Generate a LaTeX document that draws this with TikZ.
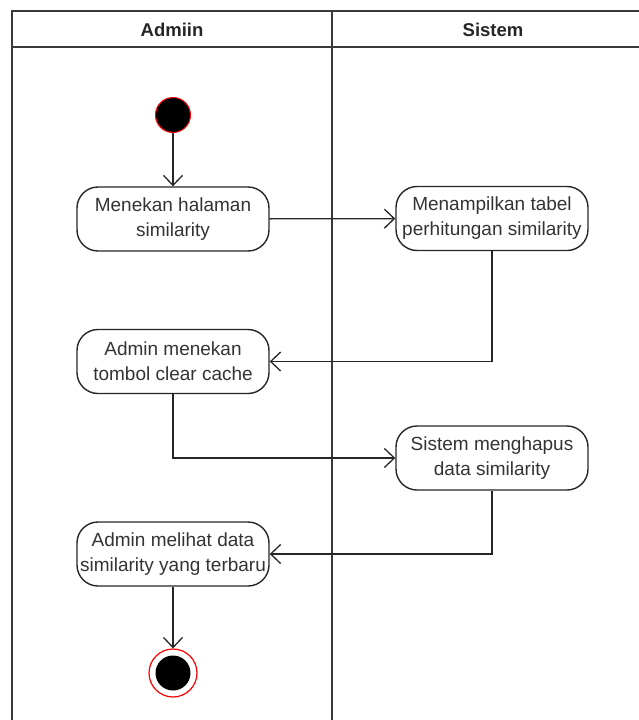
\documentclass[tikz,border=0pt]{standalone}
\usepackage{fontspec}
\setmainfont{Liberation Sans}
\usetikzlibrary{arrows.meta}
\definecolor{frame}{HTML}{3A3A3A}
\definecolor{ink}{HTML}{333333}
\definecolor{startred}{HTML}{FF0000}
\begin{document}
\begin{tikzpicture}[x=1pt,y=-1pt,
  lane/.style={draw=frame,line width=2pt},
  act/.style={draw=black!85,line width=1.4pt,rounded corners=21pt,
    minimum width=192pt,minimum height=64pt,inner sep=0pt,align=center,
    text=ink,font=\fontsize{19}{25}\selectfont},
  flow/.style={draw=black!85,line width=1.3pt,
    -{Straight Barb[length=10pt,width=19pt,line width=1.3pt]}},
  head/.style={font=\bfseries\fontsize{18.5}{20}\selectfont,text=black!85}]
\useasboundingbox (0,0) rectangle (639,720);
% swimlane frame
\draw[lane] (639,11) -- (12,11) -- (12,721);
\draw[lane] (12,47) -- (639,47);
\draw[lane] (332,11) -- (332,721);
\node[head] (hA) at (172,29.5) {Admiin};
\node[head] (hS) at (493,29.5) {Sistem};
% start and end
\node[circle,fill=black,draw=startred,line width=1pt,minimum size=35pt,inner sep=0pt] (start) at (173,115) {};
\node[circle,draw=startred,line width=1.2pt,fill=white,minimum size=48pt,inner sep=0pt] (finish) at (173,673) {};
\node[circle,fill=black,minimum size=35pt,inner sep=0pt] (finishdot) at (173,673) {};
% activities
\node[act] (a1) at (173,219) {Menekan halaman\\similarity};
\node[act] (a2) at (492,218.5) {Menampilkan tabel\\perhitungan similarity};
\node[act] (a3) at (173,361.5) {Admin menekan\\tombol clear cache};
\node[act] (a4) at (492,458) {Sistem menghapus\\data similarity};
\node[act] (a5) at (173,554) {Admin melihat data\\similarity yang terbaru};
% control flow
\draw[flow] (start) -- (a1);
\draw[flow] (a1) -- (a2);
\draw[flow] (a2.south) |- (a3.east);
\draw[flow] (a3.south) |- (a4.west);
\draw[flow] (a4.south) |- (a5.east);
\draw[flow] (a5) -- (finish);
\end{tikzpicture}
\end{document}
